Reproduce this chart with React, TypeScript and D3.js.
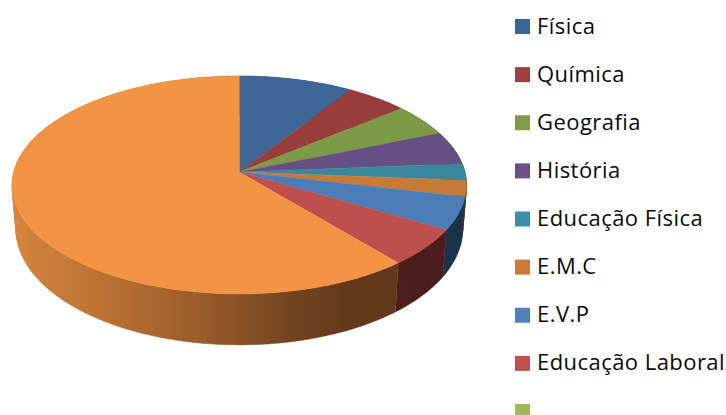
import React from "react";
import * as d3 from "d3";

const categories = ["Física", "Química", "Geografia", "História", "Educação Física", "E.M.C", "E.V.P", "Educação Laboral", ""];
const values = [9.12, 4.88, 4.9, 4.85, 2.45, 2.4, 4.85, 5.5, 61.05];
const topColors = ["#3E6797", "#983D3A", "#7D9A48", "#664F82", "#38879F", "#C67A36", "#4B7DB9", "#BE4F4D", "#F39444"];
const wallColors = ["#1F3350", "#4F1F1D", "#3F4D24", "#332841", "#1C4350", "#633D1B", "#1C344F", "#4F1D1D", "url(#orangeWall)"];
const legendColors = ["#3C6595", "#9E413E", "#7F9C4A", "#6A5087", "#3D8DA6", "#CC7C3A", "#4F81BD", "#C0504D", "#9BBB59"];
const wallStops = [
  [0, "#D4853D"], [0.22, "#BC7234"], [0.48, "#9A5C2A"], [0.72, "#744420"], [0.86, "#64391B"], [1, "#61381B"],
];

// perspective projection of the pie disc
const apexX = 239.3, apexY = 172;
const A = 225.6, B = 107.4, p = 0.1193;
type P = [number, number];
const project = (t: number): P => {
  const w = 1 + p * Math.cos(t);
  return [apexX + (A * Math.sin(t)) / w, apexY - (B * Math.cos(t)) / w];
};
const lower = ([x, y]: P): P => [apexX + (x - apexX) * 0.983, 1.0625 * y + 32.6];

const arcs = d3.pie<number>().sort(null).value((d) => d)(values);
const line = d3.line();
const sample = (a: number, b: number) => {
  const n = Math.max(4, Math.ceil((b - a) / 0.02));
  return d3.range(n + 1).map((i) => project(a + ((b - a) * i) / n));
};
// the wall as consistently oriented quads, so the fold at the silhouette does not cancel out
const wallPath = (a: number, b: number) => {
  const rim = sample(a, b);
  return rim
    .slice(1)
    .map((q, i) => {
      const quad: P[] = [rim[i], q, lower(q), lower(rim[i])];
      if (d3.polygonArea(quad) < 0) quad.reverse();
      return line(quad) + "Z";
    })
    .join("");
};

const legendY = d3.scaleLinear().domain([0, 8]).range([19, 404]);

export default function App() {
  return (
    <svg width={726} height={415} style={{ position: "absolute", left: 0, top: 0, background: "#fff" }}>
      <defs>
        <linearGradient id="orangeWall" gradientUnits="userSpaceOnUse" x1={16} x2={397} y1={0} y2={0}>
          {wallStops.map(([o, c]) => (
            <stop key={String(o)} offset={Number(o)} stopColor={String(c)} />
          ))}
        </linearGradient>
      </defs>
      <g>
        {arcs.map((a, i) => (
          <path key={i} d={wallPath(a.startAngle, a.endAngle)} fill={wallColors[i]} stroke={wallColors[i]} strokeWidth={0.4} />
        ))}
      </g>
      <g>
        {arcs.map((a, i) => (
          <path
            key={i}
            d={line([[apexX, apexY], ...sample(a.startAngle, a.endAngle)]) + "Z"}
            fill={topColors[i]}
            stroke={topColors[i]}
            strokeWidth={0.4}
          />
        ))}
      </g>
      <g fontFamily="Open Sans" fontSize={22} letterSpacing={0.45} fill="#0a0a0a">
        {categories.map((c, i) => (
          <g key={i} transform={`translate(515,${legendY(i)})`}>
            <rect width={15} height={15} fill={legendColors[i]} />
            <text x={22} y={14.5}>{c}</text>
          </g>
        ))}
      </g>
    </svg>
  );
}
